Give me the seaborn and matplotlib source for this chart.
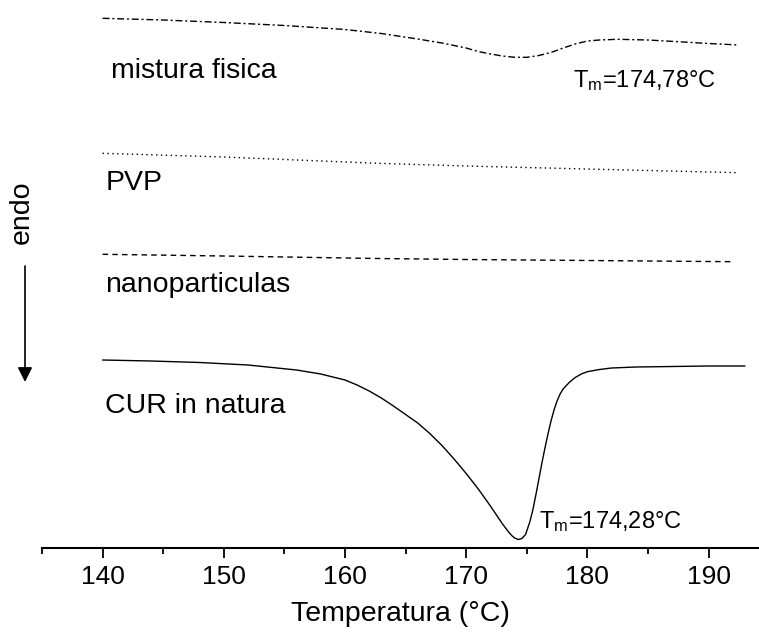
import matplotlib
matplotlib.use("Agg")
import matplotlib.pyplot as plt
import seaborn as sns
import pandas as pd
from matplotlib.ticker import MultipleLocator

# ---- data (heights in arbitrary offset units) ----
temp_cur = [140, 144, 148, 152, 156, 158, 160, 161, 162, 163, 164, 165, 166, 167,
            168, 169, 170, 171, 172, 173, 173.5, 173.8, 174, 174.3, 174.6, 174.9,
            175.25, 175.5, 175.75, 176, 176.25, 176.5, 176.75, 177, 177.25, 177.5,
            177.75, 178, 178.5, 179, 179.5, 180, 181, 182, 184, 187, 190, 193]
heat_cur = [188, 187, 185.5, 183, 178, 174, 168, 163, 157, 150, 142, 133.5, 125, 114.5,
            102.5, 89, 74.5, 59, 42, 24, 16, 12, 10, 8.5, 9.5, 13.5,
            26, 38, 53, 69, 85, 100, 114, 127, 138, 147,
            154, 159, 165.5, 170.5, 174, 176.3, 178.5, 180, 181, 181.5, 182, 182]

temp_mix = [140, 145, 150, 155, 160, 163, 166, 168, 170, 171, 172, 173, 174, 175,
            176, 177, 178, 179, 180, 181, 182.5, 185, 187.5, 190, 192.5]
heat_mix = [529.7, 528, 525.5, 522.5, 518.5, 514.5, 509, 505, 500, 496.5, 494, 492,
            490.7, 490.7, 492.5, 495.5, 500, 504, 507, 508, 508.7, 508, 506.3, 504.5, 503]

temp_pvp = [140, 150, 162.7, 170, 177.6, 185, 192.5]
heat_pvp = [394.7, 391, 384.7, 382, 379.7, 377.5, 375.3]

temp_nano = [140, 150, 162.7, 170, 180, 192]
heat_nano = [293.7, 292, 289.5, 288.5, 287.5, 286.3]

labels = ["mistura fisica", "PVP", "nanoparticulas", "CUR in natura"]
tm_labels = ["174,78", "174,28"]
xticks = [140, 150, 160, 170, 180, 190]

sns.set_theme(style="white")
plt.rcParams["font.family"] = ["Liberation Sans", "DejaVu Sans"]
plt.rcParams["mathtext.fontset"] = "custom"
plt.rcParams["mathtext.rm"] = "Liberation Sans"
plt.rcParams["mathtext.it"] = "Liberation Sans"
plt.rcParams["text.color"] = "black"
plt.rcParams["axes.labelcolor"] = "black"
plt.rcParams["xtick.color"] = "black"

fig = plt.figure(figsize=(7.59, 6.36), dpi=100)
W, H = 759, 636
ax = fig.add_axes([42 / W, (H - 548) / H, (W - 42) / W - 0.001, 548 / H])

df_mix = pd.DataFrame({"T": temp_mix, "v": heat_mix})
df_pvp = pd.DataFrame({"T": temp_pvp, "v": heat_pvp})
df_nano = pd.DataFrame({"T": temp_nano, "v": heat_nano})
df_cur = pd.DataFrame({"T": temp_cur, "v": heat_cur})

sns.lineplot(data=df_mix, x="T", y="v", ax=ax, color="black", lw=1.0,
             linestyle=(0, (5, 2, 1.5, 2)), sort=False)
sns.lineplot(data=df_pvp, x="T", y="v", ax=ax, color="black", lw=1.0,
             linestyle=(0, (1, 2.5)), sort=False)
sns.lineplot(data=df_nano, x="T", y="v", ax=ax, color="black", lw=1.0,
             linestyle=(0, (4, 3)), sort=False)
sns.lineplot(data=df_cur, x="T", y="v", ax=ax, color="black", lw=1.0, sort=False)

ax.set_xlim(135, 194.1)
ax.set_ylim(0, 548)

for s in ["top", "right", "left"]:
    ax.spines[s].set_visible(False)
ax.spines["bottom"].set_linewidth(1.5)
ax.spines["bottom"].set_color("black")

ax.set_xticks(xticks)
ax.xaxis.set_minor_locator(MultipleLocator(5))
ax.tick_params(axis="x", which="major", direction="out", length=7, width=1.3,
               labelsize=19, pad=5, colors="black", bottom=True)
ax.tick_params(axis="x", which="minor", direction="out", length=4, width=1.3,
               bottom=True, colors="black")
ax.set_yticks([])
ax.set_ylabel("")
ax.set_xlabel("Temperatura (°C)", fontsize=20.5, labelpad=9, color="black")

fs = 20.5
ax.text(140.66, 470, labels[0], fontsize=fs, ha="left", va="baseline", color="black")
ax.text(140.25, 358, labels[1], fontsize=fs, ha="left", va="baseline", color="black")
ax.text(140.2, 256, labels[2], fontsize=fs, ha="left", va="baseline", color="black")
ax.text(140.2, 135, labels[3], fontsize=fs, ha="left", va="baseline", color="black")

ax.text(178.8, 461, r"T$_\mathregular{m}$=" + tm_labels[0] + "°C", fontsize=17,
        ha="left", va="baseline", color="black")
ax.text(176.05, 20, r"T$_\mathregular{m}$=" + tm_labels[1] + "°C", fontsize=17,
        ha="left", va="baseline", color="black")

fig.text(22 / W, 1 - 212 / H, "endo", rotation=90, ha="center", va="center",
         fontsize=fs, color="black")
ax.annotate("", xy=(25 / W, 1 - 382 / H), xytext=(25 / W, 1 - 266 / H),
            xycoords="figure fraction", textcoords="figure fraction",
            arrowprops=dict(arrowstyle="-|>", lw=1.2, color="black",
                            mutation_scale=22, shrinkA=0, shrinkB=0))

fig.savefig("out.png", dpi=100)
